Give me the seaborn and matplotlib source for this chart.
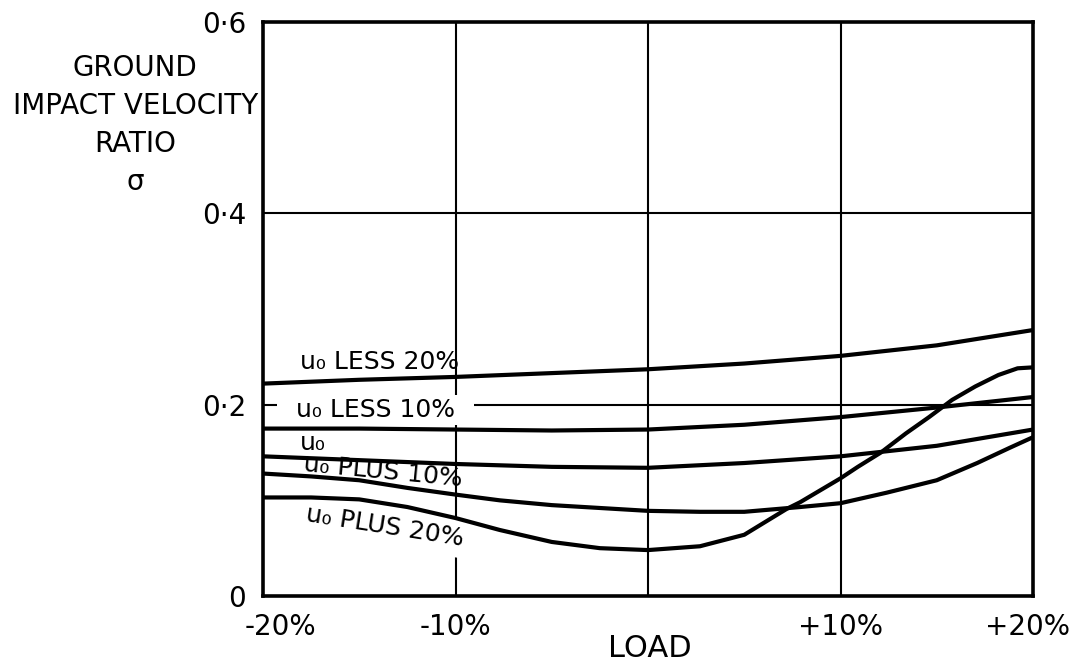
import matplotlib
matplotlib.use("Agg")
import matplotlib.pyplot as plt
import matplotlib.transforms as mtransforms
import seaborn as sns
import pandas as pd

# ---- data ----
load_coarse = [-20, -15, -10, -5, 0, 5, 10, 15, 20]
less20 = [0.222, 0.226, 0.229, 0.233, 0.237, 0.243, 0.251, 0.262, 0.278]
less10 = [0.175, 0.175, 0.174, 0.173, 0.174, 0.179, 0.187, 0.197, 0.208]
u0 = [0.146, 0.142, 0.138, 0.135, 0.134, 0.139, 0.146, 0.157, 0.174]

load_plus10 = [-20, -17.5, -15, -12.5, -10, -7.7, -5, -2.5, 0, 2.7, 5, 7.9, 10,
               12.4, 15, 17.1, 18.8, 20]
plus10 = [0.128, 0.125, 0.121, 0.113, 0.106, 0.100, 0.095, 0.092, 0.089, 0.088,
          0.088, 0.093, 0.097, 0.108, 0.121, 0.139, 0.155, 0.166]

load_plus20 = [-20, -17.5, -15, -12.5, -10, -7.7, -5, -2.5, 0, 2.7, 5, 7.2, 7.9,
               10, 10.9, 12.1, 13.4, 14.6, 15.8, 17, 18.2, 19.2, 20]
plus20 = [0.103, 0.103, 0.101, 0.093, 0.0815, 0.069, 0.0565, 0.050, 0.048, 0.052,
          0.064, 0.091, 0.098, 0.123, 0.135, 0.150, 0.170, 0.187, 0.205, 0.219,
          0.231, 0.238, 0.239]

series_names = ["u₀ LESS 20%", "u₀ LESS 10%", "u₀", "u₀ PLUS 10%", "u₀ PLUS 20%"]
xtick_vals = [-20, -10, 10, 20]
xtick_labels = ["-20%", "-10%", "+10%", "+20%"]
ytick_vals = [0, 0.2, 0.4, 0.6]
ytick_labels = ["0", "0·2", "0·4", "0·6"]

frames = []
for name, xs, ys in [(series_names[0], load_coarse, less20),
                     (series_names[1], load_coarse, less10),
                     (series_names[2], load_coarse, u0),
                     (series_names[3], load_plus10, plus10),
                     (series_names[4], load_plus20, plus20)]:
    frames.append(pd.DataFrame({"load": xs, "ratio": ys, "curve": name}))
df = pd.concat(frames, ignore_index=True)

sns.set_theme(style="white")
plt.rcParams["font.family"] = ["DejaVu Sans"]

fig = plt.figure(figsize=(10.75, 6.63), dpi=100)
ax = fig.add_axes([263 / 1075, 1 - 596 / 663, 770 / 1075, 574 / 663])

sns.lineplot(data=df, x="load", y="ratio", hue="curve",
             palette=["black"] * 5, linewidth=3.0, legend=False, ax=ax,
             zorder=3, sort=True)
for ln in ax.get_lines():
    ln.set_solid_joinstyle("round")
    ln.set_solid_capstyle("round")

ax.set_xlim(-20, 20)
ax.set_ylim(0, 0.6)
ax.set_xticks(xtick_vals)
ax.set_xticklabels(xtick_labels, fontsize=20)
ax.set_yticks(ytick_vals)
ax.set_yticklabels(ytick_labels, fontsize=20)
ax.tick_params(axis="both", length=0, colors="black")
ax.tick_params(axis="x", pad=12)
ax.tick_params(axis="y", pad=12)

# nudge end tick labels like the hand lettering
xlabs = ax.get_xticklabels()
xlabs[0].set_transform(xlabs[0].get_transform() +
                       mtransforms.ScaledTranslation(0.17, 0, fig.dpi_scale_trans))
xlabs[-1].set_transform(xlabs[-1].get_transform() +
                        mtransforms.ScaledTranslation(-0.06, 0, fig.dpi_scale_trans))

# grid lines
for gx in [-10, 0, 10]:
    ax.axvline(gx, color="black", linewidth=1.5, zorder=1)
for gy in [0.2, 0.4]:
    ax.axhline(gy, color="black", linewidth=1.5, zorder=1)

for s in ax.spines.values():
    s.set_visible(True)
    s.set_color("black")
    s.set_linewidth(2.6)

ax.set_xlabel("LOAD", fontsize=22, color="black")
ax.xaxis.set_label_coords(0.503, -0.092)
ax.xaxis.label.set_va("center")

ax.set_ylabel("GROUND\nIMPACT VELOCITY\nRATIO\nσ", fontsize=20, rotation=0,
              ha="center", va="top", linespacing=1.45, color="black")
ax.yaxis.set_label_coords(-0.166, 0.944)

# curve labels
lab_kw = dict(fontsize=18, color="black", zorder=2)
ax.text(-18.1, 0.2446, series_names[0], ha="left", va="center", **lab_kw)
ax.text(-14.16, 0.1944, "  " + series_names[1] + "  ", ha="center", va="center",
        bbox=dict(facecolor="white", edgecolor="none", pad=2), **lab_kw)
ax.text(-18.1, 0.160, series_names[2], ha="left", va="center", **lab_kw)
ax.text(-13.77, 0.1296, series_names[3], ha="center", va="center",
        rotation=-5.5, rotation_mode="anchor", **lab_kw)
ax.text(-13.66, 0.0721, series_names[4], ha="center", va="center",
        rotation=-9, rotation_mode="anchor",
        bbox=dict(facecolor="white", edgecolor="none", pad=5), **lab_kw)

fig.savefig("out.png", dpi=100)
